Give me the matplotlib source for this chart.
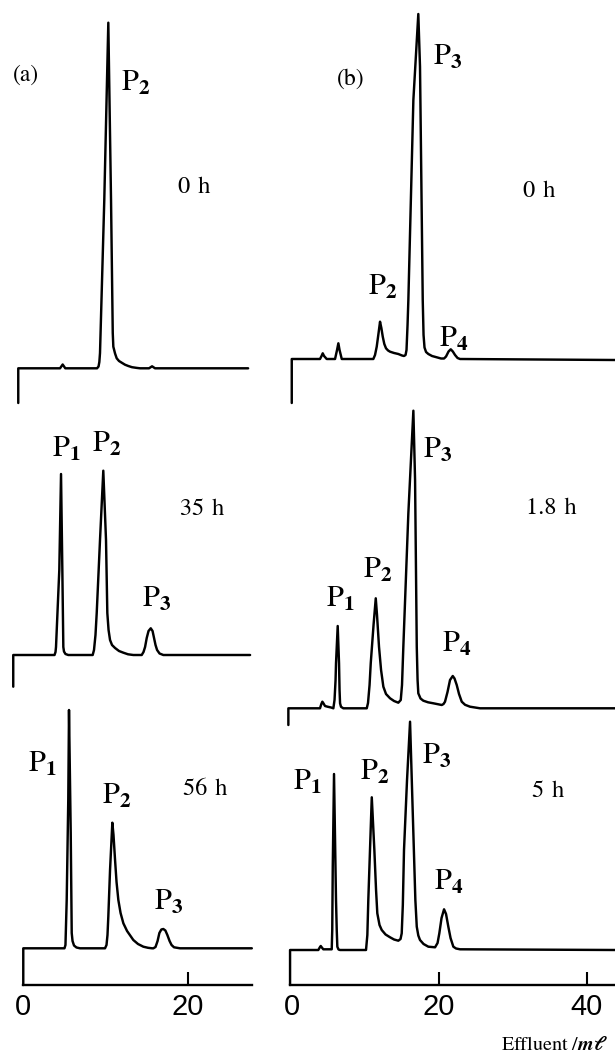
import matplotlib.pyplot as plt
import numpy as np

plt.rcParams['mathtext.fontset'] = 'stix'

SERIF = ['STIXGeneral', 'DejaVu Serif']
SANS = ['Liberation Sans', 'DejaVu Sans']

# --- DATA: effluent volume (mL) vs detector signal (arb.) ---
# (a) 0 h
A0_X = [-0.61, -0.61, 4.47, 4.79, 5.11, 8.97, 9.15, 9.25, 9.33, 9.85, 10.34,
        10.67, 10.88, 10.95, 11.16, 11.36, 11.64, 11.97, 12.37, 12.77, 13.22,
        13.80, 14.20, 15.29, 15.66, 16.02, 27.34]
A0_Y = [-3.47, 0, 0, 0.38, 0, 0, 0.18, 0.63, 1.53, 16.83, 34.56,
        16.83, 3.53, 2.16, 1.48, 1.0, 0.73, 0.56, 0.36, 0.23, 0.11,
        0.04, 0, 0, 0.2, 0, 0]
# (a) 35 h
A35_X = [-1.22, -1.22,
         3.80, 3.92, 3.98, 4.38, 4.59, 4.75, 4.87, 4.95, 5.13, 5.47,
         8.44, 8.60, 8.78, 8.93, 9.33, 9.73, 10.06, 10.22, 10.37, 10.55,
         10.79, 11.16, 11.64, 12.17, 12.74, 13.38,
         14.40, 14.62, 14.81, 15.01, 15.23, 15.50, 15.72, 15.90, 16.08, 16.27,
         16.57, 17.03, 27.58]
A35_Y = [-3.17, 0,
         0, 0.3, 0.8, 8.5, 18.1, 8.5, 0.8, 0.35, 0.1, 0,
         0, 0.5, 2.0, 4.2, 11.5, 18.43, 11.5, 4.2, 2.5, 1.5,
         1.0, 0.7, 0.4, 0.23, 0.07, 0,
         0, 0.3, 0.8, 1.7, 2.4, 2.67, 2.4, 1.7, 1.0, 0.5,
         0.15, 0, 0]
# (a) 56 h
A56_X = [0, 0,
         5.01, 5.13, 5.28, 5.47, 5.56, 5.77, 5.89, 5.99, 6.17, 6.47, 6.90,
         9.94, 10.12, 10.24, 10.34, 10.55, 10.83, 10.97, 11.16, 11.34, 11.56,
         11.83, 12.17, 12.62, 13.38, 13.95, 14.60, 15.17, 15.66,
         15.82, 16.08, 16.33, 16.55, 16.79, 17.03, 17.28, 17.52, 17.79, 18.03,
         18.33, 19.06, 27.79]
A56_Y = [-3.67, 0,
         0, 0.33, 4.83, 14.83, 23.83, 11.53, 1.53, 0.73, 0.28, 0.08, 0,
         0, 0.33, 1.33, 3.16, 7.83, 12.56, 11.33, 8.83, 6.63, 4.83,
         3.53, 2.5, 1.73, 0.83, 0.43, 0.16, 0.05, 0,
         0, 0.13, 0.73, 1.53, 1.88, 1.93, 1.78, 1.33, 0.73, 0.33,
         0.1, 0, 0]

# (b) 0 h
B0_X = [0.03, 0.03,
        3.86, 4.07, 4.23, 4.41, 4.77,
        5.90, 6.17, 6.35, 6.51, 6.81,
        11.09, 11.32, 11.55, 11.80, 12.0, 12.18, 12.37, 12.58, 12.81, 13.09,
        13.36, 13.90, 14.48, 14.98, 15.25,
        15.46, 15.59, 15.73, 15.84, 16.52, 17.19, 17.42, 17.79, 17.90, 18.03,
        18.24, 18.55, 19.05, 19.69, 20.27, 20.68,
        20.95, 21.29, 21.59, 21.87, 22.17, 22.51, 22.85, 43.86]
B0_Y = [-4.4, 0,
        0, 0.3, 0.57, 0.3, 0,
        0, 0.9, 1.57, 0.9, 0,
        0, 0.4, 1.23, 2.6, 3.73, 3.1, 2.23, 1.5, 1.07, 0.85,
        0.73, 0.6, 0.5, 0.35, 0.3,
        0.4, 0.9, 3.4, 5.9, 25.9, 34.5, 29.23, 5.9, 2.4, 1.15,
        0.7, 0.5, 0.3, 0.17, 0.05, 0.05,
        0.25, 0.75, 0.97, 0.75, 0.4, 0.1, 0, -0.1]
# (b) 1.8 h
B18_X = [-0.43, -0.43,
         3.86, 4.04, 4.18, 4.34, 4.54, 4.88, 5.36, 5.67,
         5.83, 5.97, 6.03, 6.26, 6.44, 6.51, 6.58, 6.71, 7.02,
         10.20, 10.37, 10.58, 10.74, 11.12, 11.42, 11.59, 11.86, 12.14, 12.45,
         12.81, 13.36, 13.90, 14.48, 14.81,
         14.98, 15.16, 15.84, 16.52, 16.75, 16.98, 17.09, 17.19, 17.49, 17.87,
         18.51, 19.23, 20.37,
         20.61, 20.81, 21.15, 21.49, 21.86, 22.10, 22.40, 22.71, 23.08, 23.53,
         24.20, 25.56, 43.86]
B18_Y = [-1.67, 0,
         0, 0.43, 0.66, 0.48, 0.23, 0.16, 0.08, 0,
         0.83, 2.83, 4.5, 8.23, 4.5, 1.83, 0.5, 0.15, 0,
         0, 0.53, 2.33, 4.5, 8.33, 11.0, 9.33, 6.16, 3.83, 2.16,
         1.43, 1.0, 0.73, 0.56, 0.83,
         2.33, 6.16, 19.5, 29.76, 22.83, 6.16, 2.83, 1.5, 0.98, 0.76,
         0.6, 0.5, 0.33,
         0.43, 0.66, 1.63, 2.83, 3.23, 2.98, 2.33, 1.43, 0.66, 0.35,
         0.16, 0, 0]
# (b) 5 h
B5_X = [-0.2, -0.2,
        3.63, 3.82, 3.96, 4.11, 4.31, 5.45,
        5.52, 5.59, 5.76, 6.03, 6.13, 6.21, 6.37, 6.58,
        10.10, 10.28, 10.41, 10.88, 11.23, 11.46, 11.63, 11.93, 12.23, 12.75,
        13.36, 13.90, 14.48, 14.78, 14.94,
        15.09, 15.25, 15.66, 16.07, 16.52, 16.79, 16.98, 17.19, 17.42, 17.90,
        18.55, 19.46,
        19.80, 20.04, 20.34, 20.68, 20.95, 21.26, 21.56, 21.94, 22.31, 22.85,
        43.86]
B5_Y = [-3.5, 0,
        0, 0.25, 0.4, 0.25, 0.07, 0.07,
        2.0, 8.33, 17.6, 5.0, 2.0, 0.33, 0.05, 0,
        0, 1.5, 5.0, 15.27, 10.0, 6.0, 3.67, 2.5, 2.0, 1.55,
        1.27, 1.05, 0.93, 1.1, 1.67,
        4.5, 10.0, 17.0, 22.83, 11.67, 5.0, 2.33, 1.45, 1.0, 0.6,
        0.33, 0.27,
        0.7, 1.67, 3.2, 4.07, 3.6, 2.33, 1.2, 0.33, 0.15, 0.07,
        0]

# baseline offsets of the stacked traces
OFFSETS_A = [61.67, 33.0, 3.67]
OFFSETS_B = [62.6, 27.67, 3.5]
TIMES_A = ['0', '35', '56']
TIMES_B = ['0', '1.8', '5']

X_TICKS_A = [0, 20]
X_TICKS_B = [0, 20, 40]

# --- FIGURE ---
fig = plt.figure(figsize=(6.15, 10.57), dpi=100)
ax_a = fig.add_axes([0, 0, 270 / 615, 1])
ax_b = fig.add_axes([270 / 615, 0, 345 / 615, 1])
ax_a.set_xlim(-2.83, 30.0)
ax_b.set_xlim(-2.92, 43.86)

for ax in (ax_a, ax_b):
    ax.set_ylim(-7.2, 98.5)
    ax.patch.set_visible(False)
    for s in ('left', 'right', 'top'):
        ax.spines[s].set_visible(False)
    ax.spines['bottom'].set_position(('data', 0))
    ax.spines['bottom'].set_linewidth(1.7)
    ax.set_yticks([])

ax_a.spines['bottom'].set_bounds(0, 27.79)
ax_b.spines['bottom'].set_bounds(-0.2, 43.86)

traces_a = [(A0_X, A0_Y), (A35_X, A35_Y), (A56_X, A56_Y)]
traces_b = [(B0_X, B0_Y), (B18_X, B18_Y), (B5_X, B5_Y)]
for ax, traces, offs in ((ax_a, traces_a, OFFSETS_A), (ax_b, traces_b, OFFSETS_B)):
    for (x, y), off in zip(traces, offs):
        ax.plot(x, np.array(y) + off, color='black', lw=1.75,
                solid_joinstyle='round', solid_capstyle='round', clip_on=False)

for ax, ticks in ((ax_a, X_TICKS_A), (ax_b, X_TICKS_B)):
    ax.set_xticks(ticks)
    ax.set_xticklabels([str(t) for t in ticks])
    ax.tick_params(axis='x', direction='in', length=9.5, width=1.5, pad=6,
                   labelsize=21)
    ax.xaxis.get_major_ticks()[0].tick1line.set_visible(False)
    for lab in ax.get_xticklabels():
        lab.set_fontfamily(SANS)


def peak(ax, x, y, n):
    ax.text(x, y, r'$\mathrm{P}_{\mathbf{%d}}$' % n, fontsize=22,
            ha='left', va='baseline')


def hours(ax, x, y, t):
    ax.text(x, y, t + '\u2004h', fontsize=17.5, family=SERIF,
            ha='left', va='baseline')


# panel (a) annotations
ax_a.text(0.37, 91.0, '(a)', fontsize=17, family=SERIF, ha='center', va='center')
peak(ax_a, 11.85, 89.43, 2)
hours(ax_a, 18.82, 79.17, TIMES_A[0])
peak(ax_a, 3.46, 52.77, 1)
peak(ax_a, 8.32, 53.33, 2)
hours(ax_a, 19.06, 47.0, TIMES_A[1])
peak(ax_a, 14.40, 37.83, 3)
peak(ax_a, 0.61, 21.33, 1)
hours(ax_a, 19.39, 19.0, TIMES_A[2])
peak(ax_a, 9.54, 18.17, 2)
peak(ax_a, 15.90, 7.5, 3)

# panel (b) annotations
ax_b.text(8.07, 90.63, '(b)', fontsize=17, family=SERIF, ha='center', va='center')
peak(ax_b, 19.23, 92.0, 3)
hours(ax_b, 31.43, 78.83, TIMES_B[0])
peak(ax_b, 10.41, 69.0, 2)
peak(ax_b, 20.04, 63.83, 4)
peak(ax_b, 17.79, 52.67, 3)
hours(ax_b, 31.80, 47.07, TIMES_B[1])
peak(ax_b, 9.74, 40.67, 2)
peak(ax_b, 4.64, 37.83, 1)
peak(ax_b, 20.37, 33.33, 4)
peak(ax_b, 0.24, 19.5, 1)
peak(ax_b, 9.29, 20.5, 2)
peak(ax_b, 17.65, 22.17, 3)
hours(ax_b, 32.57, 18.83, TIMES_B[2])
peak(ax_b, 19.32, 9.5, 4)

ax_b.text(42.9, -6.5, r'Effluent /$\mathbfit{m\ell}$', fontsize=14.5,
          family=SERIF, ha='right', va='baseline')

fig.savefig('out.png', dpi=100)
